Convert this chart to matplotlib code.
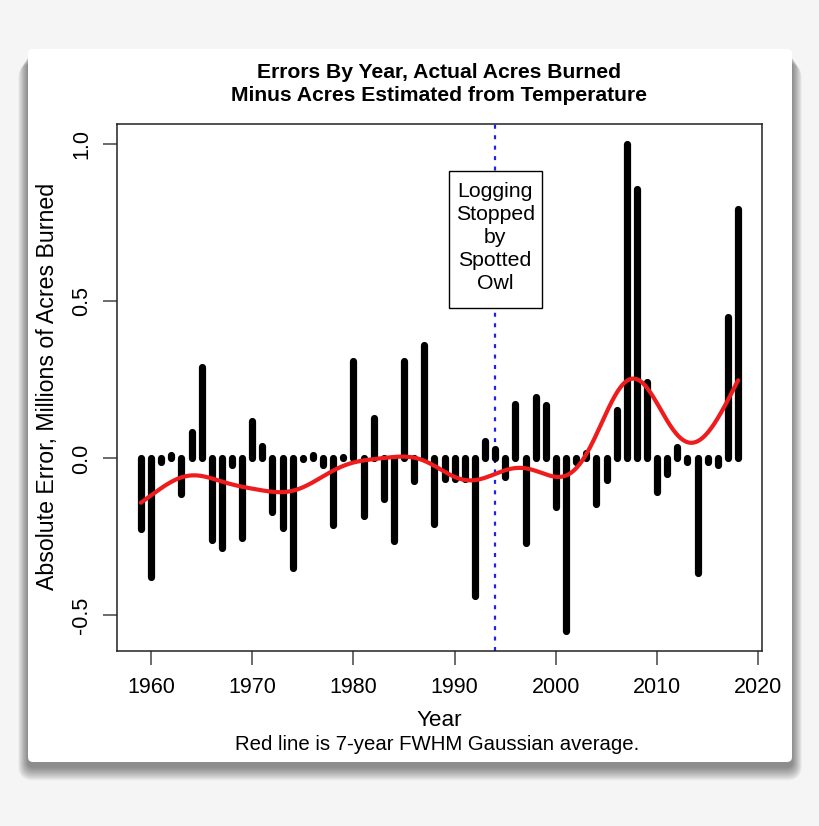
import numpy as np
import matplotlib
matplotlib.use("Agg")
import matplotlib.pyplot as plt
from matplotlib.patches import FancyBboxPatch, Rectangle
from matplotlib.transforms import IdentityTransform

plt.rcParams['font.family'] = ['Liberation Sans', 'DejaVu Sans']
plt.rcParams['axes.unicode_minus'] = False

# ---------------- data ----------------
years = list(range(1959, 2019))
errors = [
    -0.224, -0.378, -0.010, 0.010, -0.113, 0.084, 0.292, -0.259, -0.284, -0.022,   # 1959-1968
    -0.252, 0.119, 0.039, -0.171, -0.220, -0.348, -0.003, 0.012, -0.020, -0.213,   # 1969-1978
    0.006, 0.311, -0.184, 0.130, -0.130, -0.262, 0.311, -0.071, 0.361, -0.209,     # 1979-1988
    -0.064, -0.066, -0.066, -0.439, 0.057, 0.030, -0.059, 0.172, -0.268, 0.197,    # 1989-1998
    0.169, -0.155, -0.551, -0.010, 0.017, -0.145, -0.070, 0.153, 1.003, 0.858,     # 1999-2008
    0.244, -0.107, -0.049, 0.036, -0.012, -0.364, -0.010, -0.022, 0.452, 0.794,    # 2009-2018
]
event_year = 1994
fwhm_years = 7
x_ticks = [1960, 1970, 1980, 1990, 2000, 2010, 2020]
y_ticks = [-0.5, 0.0, 0.5, 1.0]
y_tick_labels = ["-0.5", "0.0", "0.5", "1.0"]

title = "Errors By Year, Actual Acres Burned\nMinus Acres Estimated from Temperature"
ylabel = "Absolute Error, Millions of Acres Burned"
xlabel = "Year"
footer = "Red line is 7-year FWHM Gaussian average."
note = "Logging\nStopped\nby\nSpotted\nOwl"

# ---------------- figure ----------------
W, H = 820, 826
fig = plt.figure(figsize=(W / 100, H / 100), dpi=100)
fig.patch.set_facecolor('#f5f5f5')

# card with soft drop shadow (pixel coordinates, origin bottom-left)
cx0, cx1 = 28, 792
cy_top, cy_bot = H - 49, H - 762
n_layers = 18
for i in range(n_layers):
    grow = n_layers - i
    sh = FancyBboxPatch((cx0 - grow * 0.55, cy_bot - 5 - grow * 0.75),
                        (cx1 - cx0) + grow * 1.1, (cy_top - cy_bot) + grow * 0.2,
                        boxstyle="round,pad=0,rounding_size=%d" % (6 + grow // 2),
                        transform=IdentityTransform(), facecolor='black',
                        edgecolor='none', alpha=0.028, zorder=0)
    fig.patches.append(sh)
card = FancyBboxPatch((cx0, cy_bot), cx1 - cx0, cy_top - cy_bot,
                      boxstyle="round,pad=0,rounding_size=5",
                      transform=IdentityTransform(), facecolor='white',
                      edgecolor='none', zorder=1)
fig.patches.append(card)

ax_l, ax_r, ax_t, ax_b = 117, 762, 124, 651
ax = fig.add_axes([ax_l / W, 1 - ax_b / H, (ax_r - ax_l) / W, (ax_b - ax_t) / H])
ax.set_facecolor('white')
ax.set_zorder(2)

yrs = np.array(years, dtype=float)
vals = np.array(errors)

# bars (type="h")
for x, v in zip(yrs, vals):
    ax.plot([x, x], [0, v], color='black', lw=5.2, solid_capstyle='round', zorder=3)

# Gaussian kernel average (7-year FWHM)
sigma = fwhm_years / (2 * np.sqrt(2 * np.log(2)))
xs = np.linspace(yrs.min(), yrs.max(), 600)
w = np.exp(-0.5 * ((xs[:, None] - yrs[None, :]) / sigma) ** 2)
smooth = (w * vals[None, :]).sum(axis=1) / w.sum(axis=1)
ax.plot(xs, smooth, color='#ee1c1c', lw=3.0, zorder=4, solid_capstyle='round')

# event line
ax.axvline(event_year, color='#2020ee', lw=1.6, linestyle=(0, (1.8, 2.9)), zorder=2)

# limits like R (4% extension)
rng = yrs.max() - yrs.min()
ax.set_xlim(yrs.min() - 0.04 * rng, yrs.max() + 0.04 * rng)
vr = vals.max() - vals.min()
ax.set_ylim(vals.min() - 0.04 * vr, vals.max() + 0.04 * vr)

# annotation box
bx0, bx1 = 1989.45, 1998.6
by0, by1 = 0.479, 0.916
ax.add_patch(Rectangle((bx0, by0), bx1 - bx0, by1 - by0, facecolor='white',
                       edgecolor='black', lw=1.0, zorder=5))
ax.text(event_year, (by0 + by1) / 2 + 0.005, note, ha='center', va='center',
        fontsize=15.3, linespacing=1.27, zorder=6)

# axes styling
for s in ax.spines.values():
    s.set_linewidth(1.1)
    s.set_color('#222222')
ax.set_xticks(x_ticks)
ax.set_xticklabels([str(t) for t in x_ticks])
ax.set_yticks(y_ticks)
ax.set_yticklabels(y_tick_labels, rotation=90, va='center')
ax.tick_params(axis='both', direction='out', length=10, width=1.1, color='#444444',
               labelsize=15.5)
ax.tick_params(axis='x', pad=9)
ax.tick_params(axis='y', pad=8)

# texts in figure pixel positions
fig.text(439 / W, 1 - 84 / H, title, ha='center', va='center', fontsize=15.2,
         fontweight='bold', linespacing=1.22)
fig.text(48 / W, 1 - 386 / H, ylabel, ha='center', va='center', rotation=90,
         fontsize=16.7)
fig.text(439 / W, 1 - 720 / H, xlabel, ha='center', va='center', fontsize=16.2)
fig.text(437 / W, 1 - 745 / H, footer, ha='center', va='center', fontsize=14.7)

fig.savefig('out.png', dpi=100, facecolor=fig.get_facecolor())
